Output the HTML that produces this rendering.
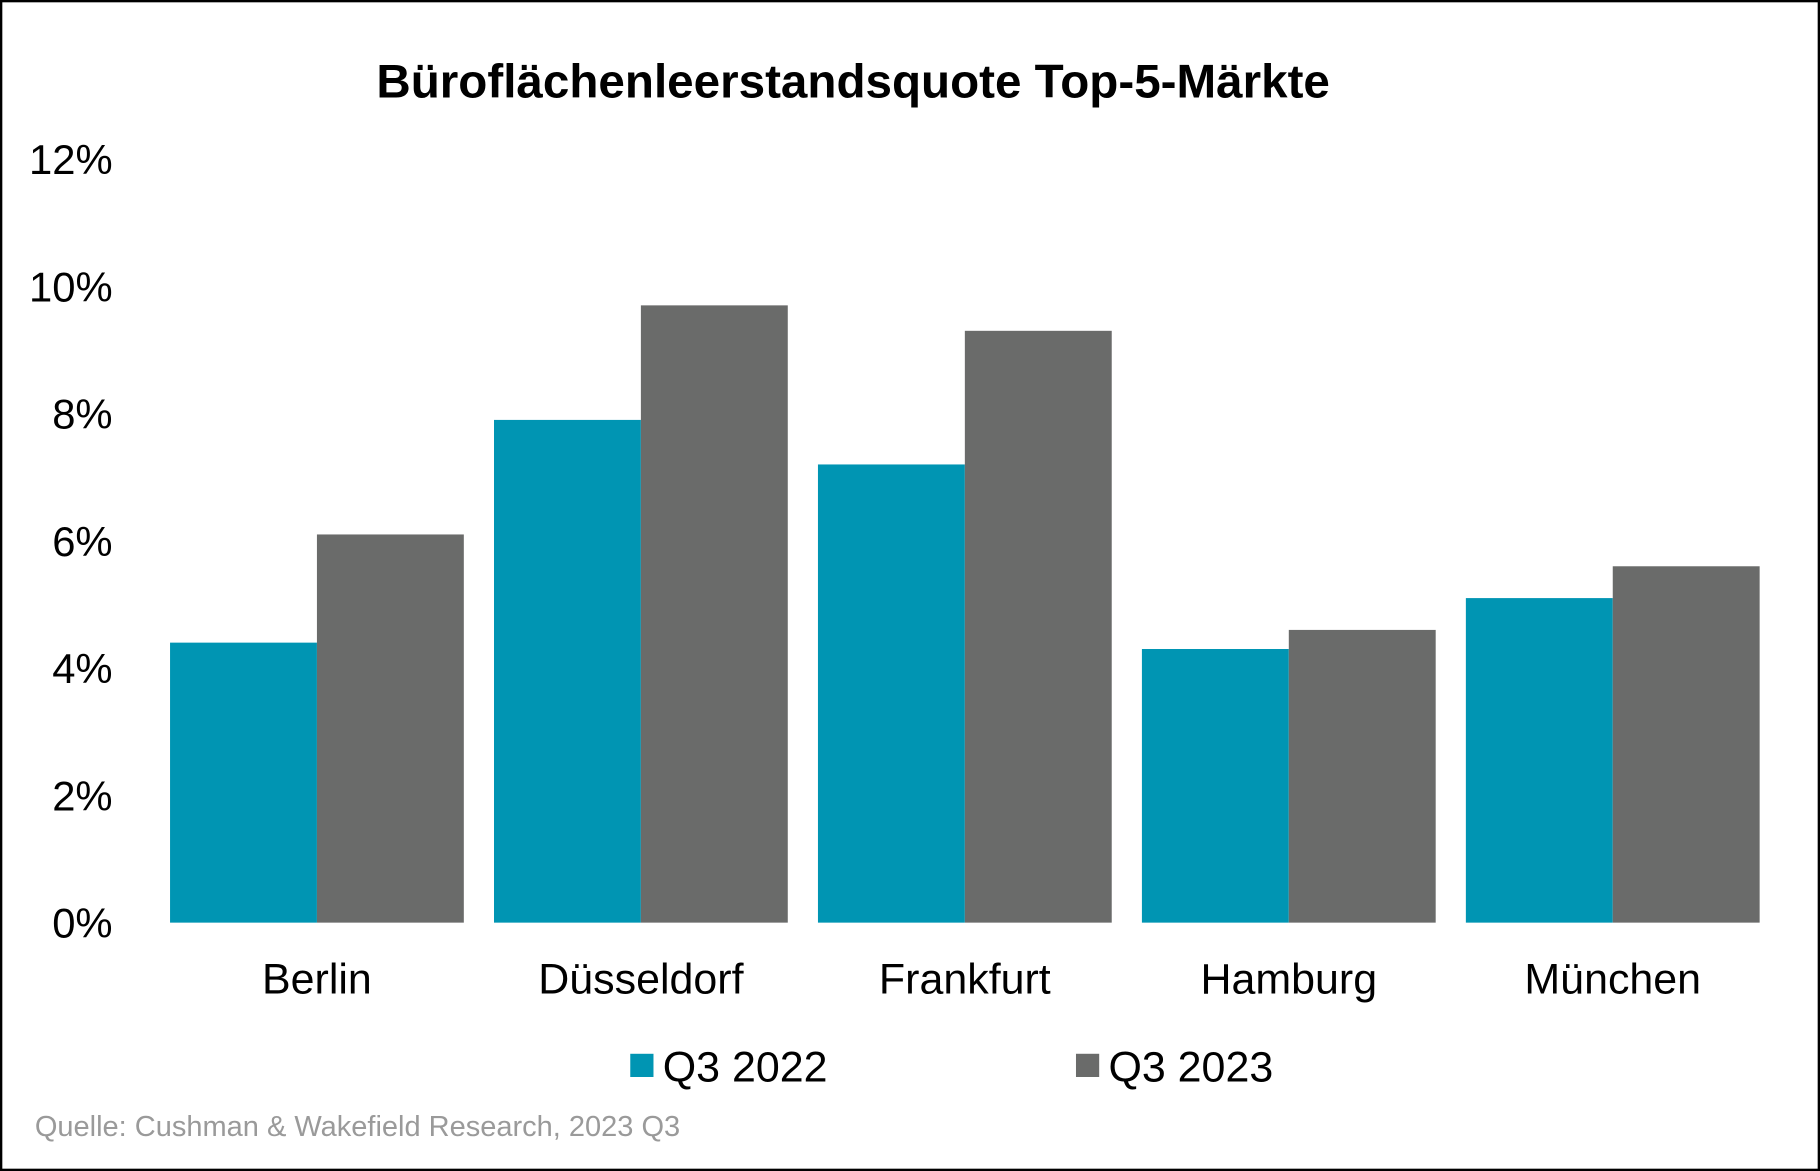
<!DOCTYPE html>
<html><head><meta charset="utf-8"><style>
html,body{margin:0;padding:0;background:#fff}
svg{display:block}
text{font-family:"Liberation Sans",Arial,sans-serif}
</style></head><body>
<svg id="chart" width="1820" height="1171" viewBox="0 0 1568 1009" preserveAspectRatio="none" xmlns="http://www.w3.org/2000/svg">
<rect x="1" y="1" width="1566" height="1007" fill="#fff" stroke="#000" stroke-width="2"/>
<text x="735" y="84" font-size="41" font-weight="bold" text-anchor="middle" fill="#000">Büroflächenleerstandsquote Top-5-Märkte</text>
<g id="yaxis"></g>
<g id="bars"></g>
<g id="xaxis"></g>
<g>
<rect x="543" y="908" width="20" height="20" fill="#0095B3"/>
<text x="571" y="932" font-size="37" fill="#000">Q3 2022</text>
<rect x="927" y="908" width="20" height="20" fill="#6A6B6A"/>
<text x="955" y="932" font-size="37" fill="#000">Q3 2023</text>
</g>
<text x="30" y="979" font-size="25" fill="#9a9a9a">Quelle: Cushman &amp; Wakefield Research, 2023 Q3</text>
</svg>
<script>
const categories = ["Berlin","Düsseldorf","Frankfurt","Hamburg","München"];
const q3_2022 = [4.4, 7.9, 7.2, 4.3, 5.1];
const q3_2023 = [6.1, 9.7, 9.3, 4.6, 5.6];
const yTicks = [0, 2, 4, 6, 8, 10, 12];
const yTickLabels = ["0%","2%","4%","6%","8%","10%","12%"];
const NS = "http://www.w3.org/2000/svg";
const plotLeft = 133.5, plotRight = 1529, y0 = 795, yTop = 137, yMax = 12;
const y = v => y0 - (v / yMax) * (y0 - yTop);
const band = (plotRight - plotLeft) / categories.length;
const gap = 26, barW = (band - gap) / 2;
const xStart = i => plotLeft + i * band + gap / 2;
function mk(tag, attrs, parent, txt){const e=document.createElementNS(NS,tag);for(const k in attrs)e.setAttribute(k,attrs[k]);if(txt!==undefined)e.textContent=txt;parent.appendChild(e);return e;}
const ya = document.getElementById('yaxis');
yTicks.forEach((t,i)=>{
  const e = mk('text',{x:97,y:y(t)+13,'font-size':36,'text-anchor':'end',fill:'#000'},ya,yTickLabels[i]);
  
  
});
const bg = document.getElementById('bars');
const xa = document.getElementById('xaxis');
categories.forEach((c,i)=>{
  const x = xStart(i);
  const a = mk('rect',{x:x,y:y(q3_2022[i]),width:barW,height:y0-y(q3_2022[i]),fill:'#0095B3'},bg);
  
  
  const b = mk('rect',{x:x+barW,y:y(q3_2023[i]),width:barW,height:y0-y(q3_2023[i]),fill:'#6A6B6A'},bg);
  
  
  const l = mk('text',{x:x+barW,y:856,'font-size':37,'text-anchor':'middle',fill:'#000'},xa,c);
  
  
});
</script>
</body></html>
